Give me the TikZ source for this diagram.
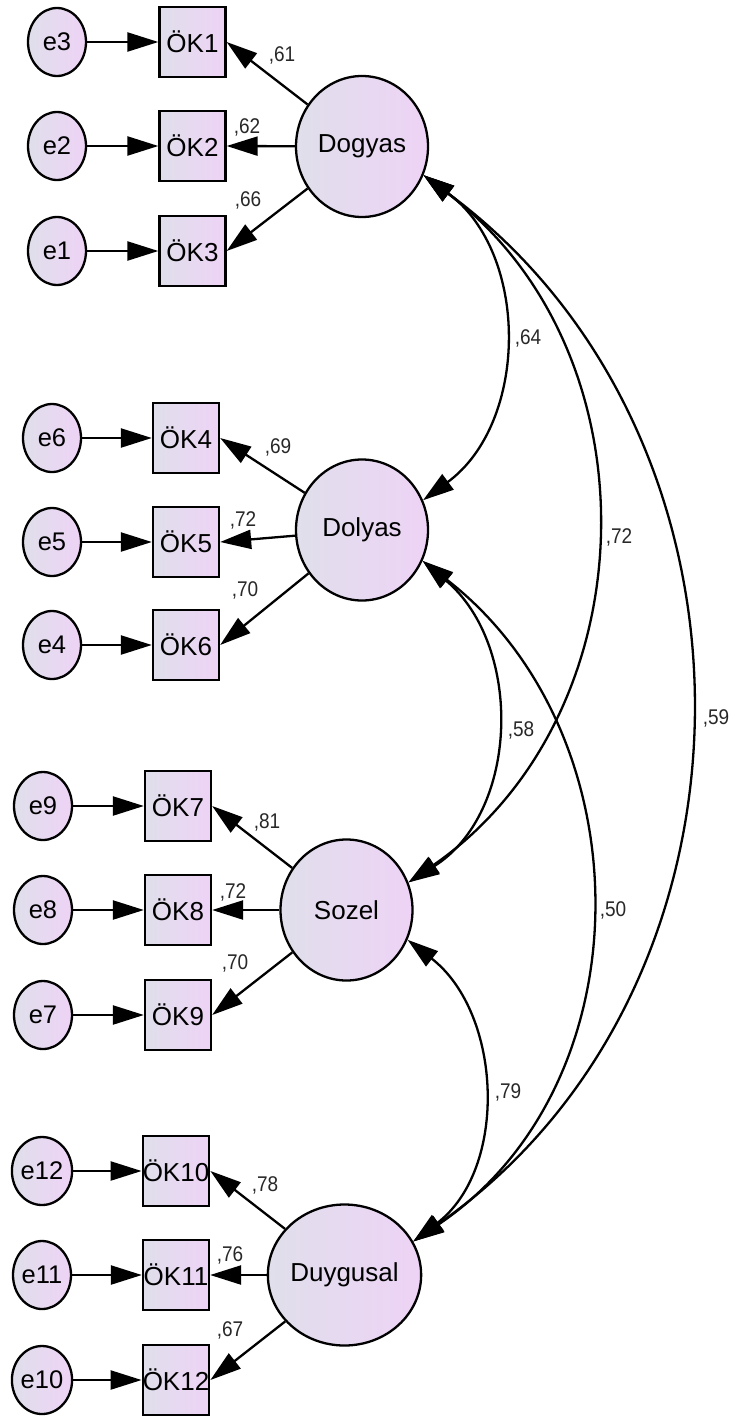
\documentclass[tikz,border=0pt]{standalone}
\usepackage{fontspec}
\usepackage{graphicx}
\setmainfont{Liberation Sans}
\usetikzlibrary{arrows.meta,shapes.geometric}

\definecolor{shadeL}{RGB}{224,223,235}
\definecolor{shadeR}{RGB}{238,211,246}
\definecolor{coefgray}{RGB}{40,40,40}

% coefficient text, set slightly taller than the plain face
\newcommand{\coeftext}[1]{\scalebox{1}[1.12]{#1}}

\tikzset{
  >={Triangle[length=31pt,width=19pt]},
  shaded/.style={draw, left color=shadeL, right color=shadeR, inner sep=0pt},
  obs/.style={shaded, rectangle, minimum width=66pt, minimum height=70pt,
    font=\fontsize{26}{30}\selectfont},
  err/.style={shaded, ellipse, minimum width=58pt, minimum height=68pt,
    font=\fontsize{25.5}{30}\selectfont},
  lat/.style={shaded, ellipse, minimum width=132pt, minimum height=141pt,
    font=\fontsize{26}{30}\selectfont},
  coef/.style={font=\fontsize{19}{22}\selectfont, text=coefgray, inner sep=0pt},
}

\begin{document}
\begin{tikzpicture}[x=1pt, y=-1pt, line width=2.3pt]
\fill[white] (0,0) rectangle (731,1416);
\path[use as bounding box] (0,0) rectangle (731,1416);

% ---- Dogyas block ----
\node[lat] (Dogyas) at (362,146.5) {Dogyas};
\node[obs] (OK1) at (192.5,42) {ÖK1};
\node[obs] (OK2) at (192.5,146) {ÖK2};
\node[obs] (OK3) at (192.5,251) {ÖK3};
\node[err] (e3) at (57,42) {e3};
\node[err] (e2) at (57,146) {e2};
\node[err] (e1) at (57,251) {e1};

% ---- Dolyas block ----
\node[lat] (Dolyas) at (362,530) {Dolyas};
\node[obs] (OK4) at (186,438) {ÖK4};
\node[obs] (OK5) at (186,542) {ÖK5};
\node[obs] (OK6) at (186,645) {ÖK6};
\node[err] (e6) at (52,438) {e6};
\node[err] (e5) at (52,542) {e5};
\node[err] (e4) at (52,645) {e4};

% ---- Sozel block ----
\node[lat] (Sozel) at (346.5,910) {Sozel};
\node[obs] (OK7) at (178,806) {ÖK7};
\node[obs] (OK8) at (178,910) {ÖK8};
\node[obs] (OK9) at (178,1015) {ÖK9};
\node[err] (e9) at (43,806) {e9};
\node[err] (e8) at (43,910) {e8};
\node[err] (e7) at (43,1015) {e7};

% ---- Duygusal block ----
\node[lat] (Duygusal) at (344.5,1275) {Duygusal};
\node[obs] (OK10) at (176,1171) {ÖK10};
\node[obs] (OK11) at (176,1275) {ÖK11};
\node[obs] (OK12) at (176,1380) {ÖK12};
\node[err] (e12) at (42,1171) {e12};
\node[err] (e11) at (42,1275) {e11};
\node[err] (e10) at (42,1380) {e10};

% error terms into indicators
\foreach \e/\o in {e3/OK1,e2/OK2,e1/OK3,e6/OK4,e5/OK5,e4/OK6,
                   e9/OK7,e8/OK8,e7/OK9,e12/OK10,e11/OK11,e10/OK12}
  \draw[->] (\e) -- (\o);

% factor loadings
\foreach \f/\a/\b/\c in {Dogyas/OK1/OK2/OK3, Dolyas/OK4/OK5/OK6,
                         Sozel/OK7/OK8/OK9, Duygusal/OK10/OK11/OK12}{
  \draw[->] (\f) -- (\a.east);
  \draw[->] (\f) -- (\b.east);
  \draw[->] (\f) -- (\c.east);
}

\node[coef] (l1)  at (282,55)   {\coeftext{,61}};
\node[coef] (l2)  at (247,127)  {\coeftext{,62}};
\node[coef] (l3)  at (248,200)  {\coeftext{,66}};
\node[coef] (l4)  at (278,447)  {\coeftext{,69}};
\node[coef] (l5)  at (243,520)  {\coeftext{,72}};
\node[coef] (l6)  at (245,590)  {\coeftext{,70}};
\node[coef] (l7)  at (267,822)  {\coeftext{,81}};
\node[coef] (l8)  at (233,892)  {\coeftext{,72}};
\node[coef] (l9)  at (235,963)  {\coeftext{,70}};
\node[coef] (l10) at (265,1185) {\coeftext{,78}};
\node[coef] (l11) at (230,1255) {\coeftext{,76}};
\node[coef] (l12) at (230,1330) {\coeftext{,67}};

% factor covariances
\draw[<->] (Dogyas.-25) .. controls +(106,78) and +(106,-78) .. (Dolyas.26);
\draw[<->] (Dogyas.-25) .. controls +(235,177) and +(242,-168) .. (Sozel.24);
\draw[<->] (Dogyas.-25) .. controls +(357,264) and +(364,-254) .. (Duygusal.26);
\draw[<->] (Dolyas.-27) .. controls +(101,85) and +(111,-70) .. (Sozel.24);
\draw[<->] (Dolyas.-27) .. controls +(223,173) and +(234,-158) .. (Duygusal.26);
\draw[<->] (Sozel.-26) .. controls +(95,74) and +(95,-73) .. (Duygusal.26);

\node[coef] (c1) at (528,338)  {\coeftext{,64}};
\node[coef] (c2) at (619,537)  {\coeftext{,72}};
\node[coef] (c3) at (716,718)  {\coeftext{,59}};
\node[coef] (c4) at (521,730)  {\coeftext{,58}};
\node[coef] (c5) at (613,910)  {\coeftext{,50}};
\node[coef] (c6) at (508,1092) {\coeftext{,79}};
\end{tikzpicture}
\end{document}
